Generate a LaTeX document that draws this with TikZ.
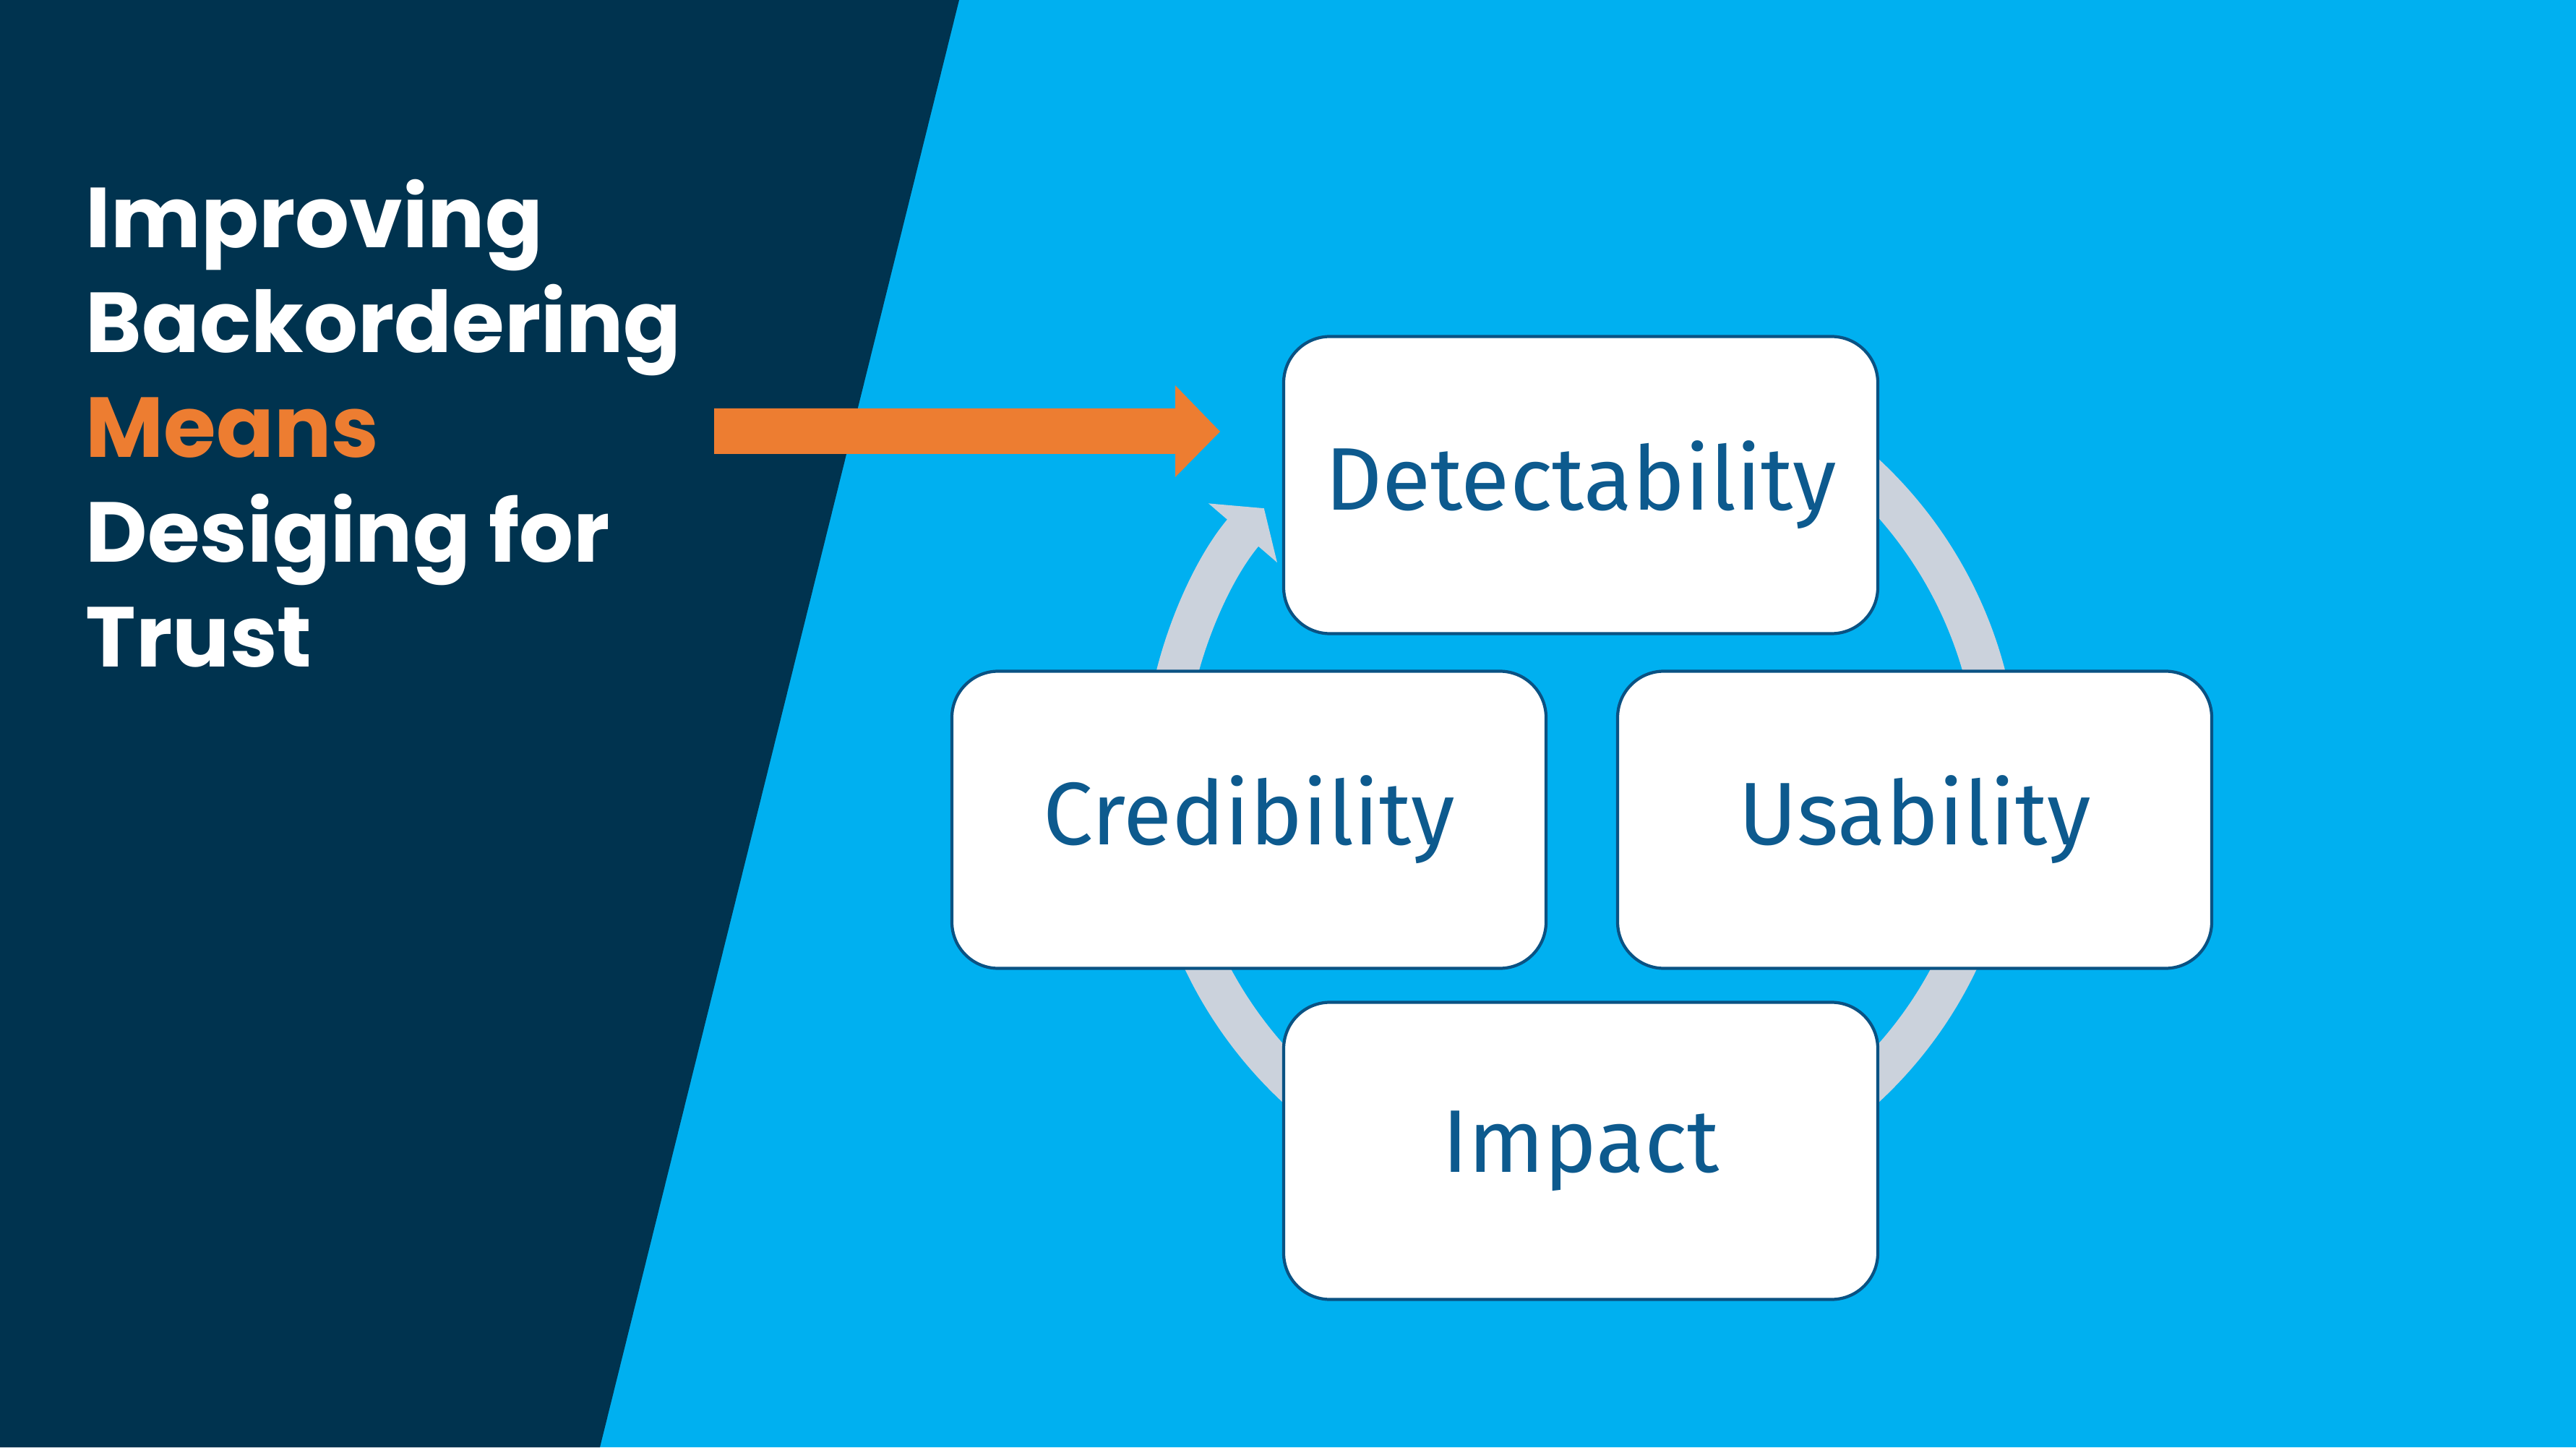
\documentclass[tikz,border=0pt]{standalone}
\usepackage{fontspec}
\setmainfont{Fira Sans}
\newfontfamily\titlefont{Poppins}
\usetikzlibrary{arrows.meta}
\definecolor{navy}{RGB}{0,51,79}
\definecolor{skyblue}{RGB}{0,176,240}
\definecolor{accent}{RGB}{237,125,49}
\definecolor{ringgray}{RGB}{203,210,220}
\definecolor{boxline}{RGB}{10,82,131}
\definecolor{boxtext}{RGB}{13,90,142}

\begin{document}
\begin{tikzpicture}[
        stage/.style={draw=boxline, line width=1.2pt, fill=white, rounded corners=0.64cm,
            minimum width=8.22cm, minimum height=4.11cm, inner sep=0pt,
            text=boxtext, font=\fontsize{35}{42}\selectfont}
    ]
        \useasboundingbox (0,0) rectangle (35.64,20.02);
        \fill[skyblue] (0,0) rectangle (35.64,20.02);
        \fill[navy] (0,20.02) -- (13.27,20.02) -- (8.30,0) -- (0,0) -- cycle;
        \node[anchor=base west, align=left, inner sep=0pt, text=white,
            font=\titlefont\bfseries\fontsize{33.5}{41.3}\selectfont] (title) at (1.18,10.79)
            {Improving\\Backordering\\\textcolor{accent}{Means}\\Desiging for\\Trust};
        \coordinate (hub) at (21.87,9.22);
        \draw[ringgray, line width=0.57cm, -{Triangle[width=1.23cm, length=0.45cm]}]
            ([shift={(80:5.78)}]hub) arc[start angle=80, end angle=-220.7, radius=5.78];
        \node[stage] (detect) at (21.87,13.31) {Detectability};
        \node[stage] (usab) at (26.49,8.68) {Usability};
        \node[stage] (cred) at (17.28,8.68) {Credibility};
        \node[stage] (impact) at (21.87,4.10) {Impact};
        \fill[accent] (9.88,14.37) -- (16.26,14.37) -- (16.26,14.69) -- (16.88,14.05)
            -- (16.26,13.42) -- (16.26,13.74) -- (9.88,13.74) -- cycle;
    \end{tikzpicture}
\end{document}
